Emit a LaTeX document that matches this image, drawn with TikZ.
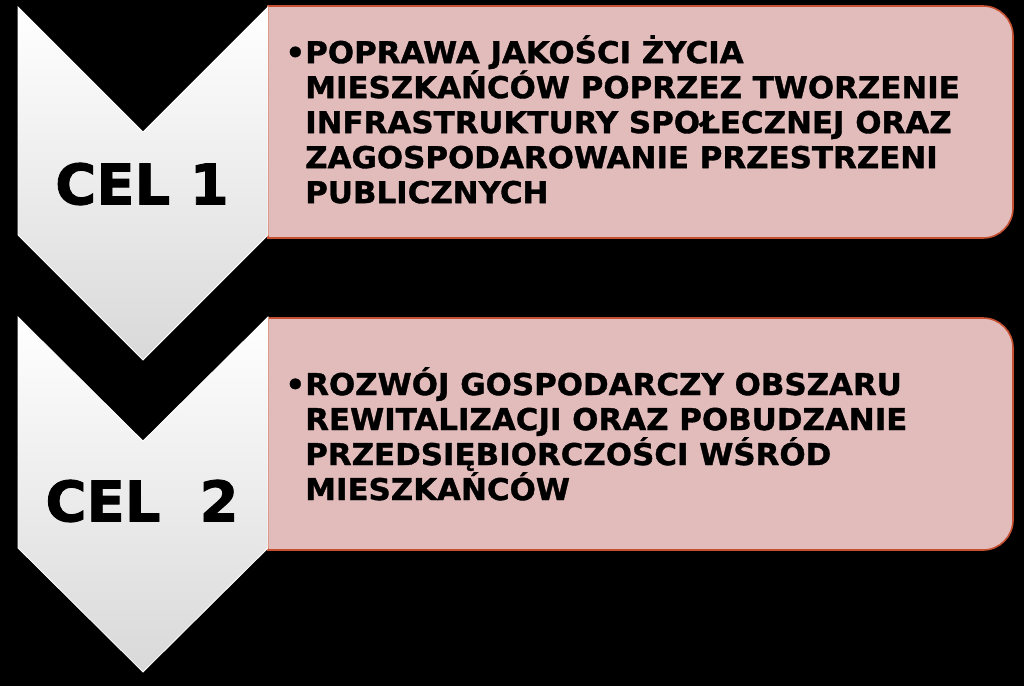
\documentclass[tikz,border=0pt]{standalone}
\usepackage{fontspec}
\setmainfont{DejaVu Sans}
\newfontfamily\goalfont{DejaVu Sans Bold}[FakeStretch=1.03,FakeBold=1.2]
\newfontfamily\celfont{DejaVu Sans Bold}[FakeBold=1.5]
\usetikzlibrary{calc}
\definecolor{boxfill}{RGB}{226,188,187}
\definecolor{boxline}{RGB}{200,80,50}
\tikzset{
  chevron/.style={top color=white,bottom color=gray!30,draw=white,line width=0.8pt},
  goalbox/.style={fill=boxfill,draw=boxline,line width=1.6pt},
  goaltext/.style={anchor=north west,inner sep=0pt,align=left,
    font=\goalfont\fontsize{30}{35}\selectfont},
  celtext/.style={inner sep=0pt,font=\celfont\fontsize{56}{60}\selectfont}
}
\begin{document}
\begin{tikzpicture}[x=1pt,y=-1pt]
        \fill[black] (0,0) rectangle (1024,686);
        \useasboundingbox (0,0) rectangle (1024,686);

        \draw[goalbox] (268,6) -- (983,6) arc[start angle=-90,end angle=0,radius=30] -- (1013,208) arc[start angle=0,end angle=90,radius=30] -- (268,238) -- cycle;
        \draw[goalbox] (268,318) -- (983,318) arc[start angle=-90,end angle=0,radius=30] -- (1013,520) arc[start angle=0,end angle=90,radius=30] -- (268,550) -- cycle;

        \shade[chevron] (18,7) -- (143,132) -- (268,7) -- (268,235) -- (143,360) -- (18,235) -- cycle;
        \shade[chevron] (18,317) -- (143,441) -- (268,317) -- (268,548) -- (143,672) -- (18,548) -- cycle;

        \node[celtext] (cel1) at (142,184) {CEL 1};
        \node[celtext] (cel2) at (142,501) {CEL\ \ 2};

        \node[goaltext] (goal1) at (305,35) {\llap{•}POPRAWA JAKOŚCI ŻYCIA\\MIESZKAŃCÓW POPRZEZ TWORZENIE\\INFRASTRUKTURY SPOŁECZNEJ ORAZ\\ZAGOSPODAROWANIE PRZESTRZENI\\PUBLICZNYCH};
        \node[goaltext] (goal2) at (305,367) {\llap{•}ROZWÓJ GOSPODARCZY OBSZARU\\REWITALIZACJI ORAZ POBUDZANIE\\PRZEDSIĘBIORCZOŚCI WŚRÓD\\MIESZKAŃCÓW};
\end{tikzpicture}
\end{document}
